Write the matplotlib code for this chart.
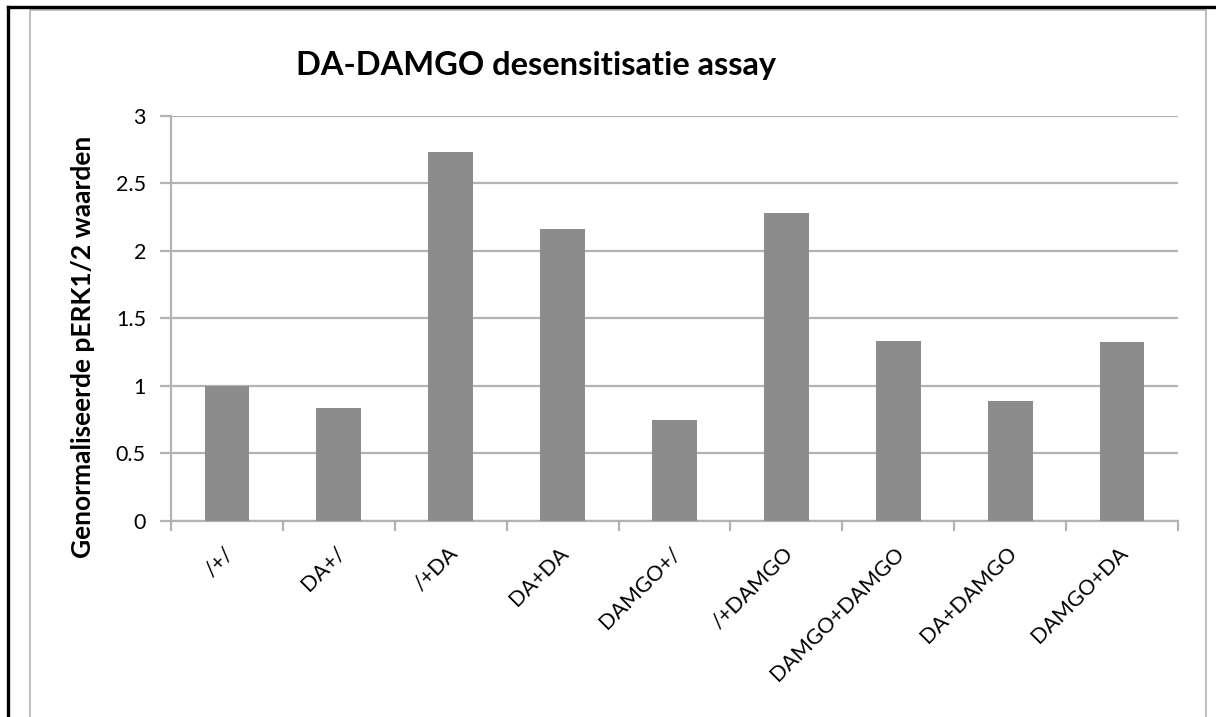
import numpy as np
import matplotlib
matplotlib.use("Agg")
import matplotlib.pyplot as plt
from matplotlib.lines import Line2D
from matplotlib.transforms import ScaledTranslation

plt.rcParams['font.family'] = ['Lato', 'DejaVu Sans']

# behandelingen en genormaliseerde pERK1/2 waarden
behandelingen = ['/+/', 'DA+/', '/+DA', 'DA+DA', 'DAMGO+/', '/+DAMGO',
                 'DAMGO+DAMGO', 'DA+DAMGO', 'DAMGO+DA']
waarden = [1.0, 0.835, 2.73, 2.16, 0.745, 2.28, 1.335, 0.89, 1.325]
y_ticks = [0, 0.5, 1, 1.5, 2, 2.5, 3]

W, H = 1216, 717
fig = plt.figure(figsize=(W / 100, H / 100), dpi=100)
ax = fig.add_axes([171 / W, 1 - 521 / H, (1178 - 171) / W, (521 - 115.5) / H])

grijs = '#b3b3b3'
x = np.arange(len(behandelingen))
ax.bar(x, waarden, width=0.4, color='#8c8c8c', zorder=3)

ax.set_xlim(-0.5, len(behandelingen) - 0.5)
ax.set_ylim(0, 3)
ax.set_yticks(y_ticks)
ax.set_yticklabels([f'{t:g}' for t in y_ticks], fontsize=15.5)
ax.yaxis.grid(True, color=grijs, linewidth=1.6, zorder=0)
ax.set_axisbelow(True)

# categorienamen onder de balken, tickstreepjes op de grenzen
ax.set_xticks(x)
ax.set_xticklabels(behandelingen, rotation=45, ha='right', rotation_mode='anchor',
                   fontsize=15.5)
ax.tick_params(axis='x', which='major', length=0, pad=16)
verschuif = ScaledTranslation(-4 / 100, 0, fig.dpi_scale_trans)
for lbl in ax.get_xticklabels():
    lbl.set_transform(lbl.get_transform() + verschuif)
ax.set_xticks(np.arange(-0.5, len(behandelingen)), minor=True)
ax.tick_params(axis='x', which='minor', length=7, width=1.6, color=grijs)
ax.tick_params(axis='y', length=8, width=1.6, color=grijs, pad=10)

for kant in ['top', 'right']:
    ax.spines[kant].set_visible(False)
for kant in ['left', 'bottom']:
    ax.spines[kant].set_color(grijs)
    ax.spines[kant].set_linewidth(1.6)

ax.set_ylabel('Genormaliseerde pERK1/2 waarden', fontsize=19, fontweight='bold')
ax.yaxis.set_label_coords(-0.075, 0.43)
fig.text(536 / W, 1 - 75 / H, 'DA-DAMGO desensitisatie assay', fontsize=23.5,
         fontweight='bold', ha='center', va='baseline')

# kader rond de grafiek
def lijn(xs, ys, kleur, dikte):
    fig.add_artist(Line2D([v / W for v in xs], [1 - v / H for v in ys],
                          color=kleur, linewidth=dikte, transform=fig.transFigure))

lijn([30, 30, 1206, 1206], [H + 5, 10, 10, H + 5], grijs, 1.2)
lijn([8, 8], [H + 5, 7], 'black', 2.4)
lijn([8, 1216], [7, 7], 'black', 2.4)

fig.savefig('out.png', dpi=100)
